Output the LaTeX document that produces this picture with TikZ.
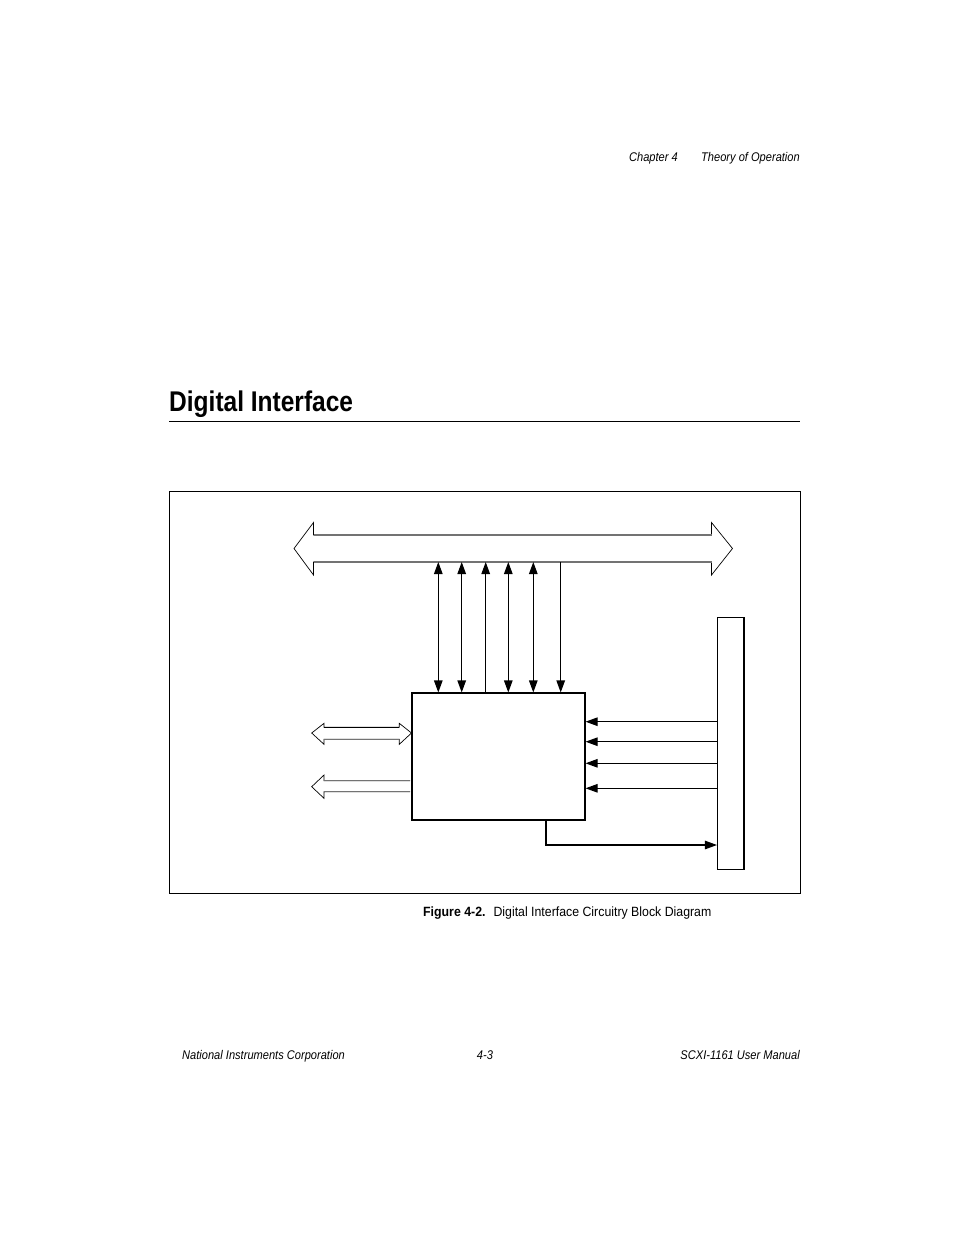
\documentclass[tikz,border=0pt]{standalone}
\usepackage{fontspec}
\setmainfont{Liberation Sans}
\newfontfamily\cond{Liberation Sans}[FakeStretch=0.88]
\newfontfamily\capf{Liberation Sans}[FakeStretch=0.92]
\newfontfamily\titf{Liberation Sans}[FakeStretch=0.86]
\usetikzlibrary{arrows.meta}
\tikzset{
  sig/.style={line width=1.1pt, black},
  ntip/.tip={Triangle[length=12pt,width=8.5pt]},
  outline/.style={line width=0.7pt, black, line join=miter},
  shaft/.style={line width=1.2pt, black!55},
  block/.style={draw, line width=1.1pt, inner sep=0, minimum width=#1},
  txt/.style={inner sep=0, text=black}
}
\begin{document}
\begin{tikzpicture}[x=1pt,y=-1pt]
\useasboundingbox (0,0) rectangle (954,1235);
% header
\node[txt, anchor=base east] (hdrA) at (678,161.5) {\cond\itshape\fontsize{12.6}{14}\selectfont Chapter 4};
\node[txt, anchor=base east] (hdrB) at (800,161.5) {\cond\itshape\fontsize{12.6}{14}\selectfont Theory of Operation};
% title
\node[txt, anchor=base west] (title) at (169,411.5) {\titf\bfseries\fontsize{28.5}{32}\selectfont Digital Interface};
\draw[line width=0.9pt] (169,421) -- (800,421);
% frame
\node[draw, line width=0.9pt, inner sep=0, minimum width=631pt, minimum height=402pt] (frame) at (484.5,692) {};
% bus arrow
\draw[outline] (294,548.5) -- (313.5,522.5) -- (313.5,535) -- (711.5,535) -- (711.5,522.5) -- (732.5,548.5) -- (711.5,575) -- (711.5,562) -- (313.5,562) -- (313.5,575) -- cycle;
\draw[shaft] (313.5,535) -- (711.5,535);
\draw[shaft] (313.5,562) -- (711.5,562);
% control block
\node[block=173pt, minimum height=127pt] (ctrl) at (498.5,756.5) {};
% right block
\node[block=26.5pt, minimum height=252pt] (blk) at (730.75,743.5) {};
% bus taps
\coordinate (b1) at (438.3,562);
\coordinate (b2) at (461.7,562);
\coordinate (b3) at (485.7,562);
\coordinate (b4) at (508.3,562);
\coordinate (b5) at (533.3,562);
\coordinate (b6) at (560.7,562);
\draw[sig, ntip-ntip] (b1) -- (b1 |- ctrl.north);
\draw[sig, ntip-ntip] (b2) -- (b2 |- ctrl.north);
\draw[sig, ntip-] (b3) -- (b3 |- ctrl.north);
\draw[sig, ntip-ntip] (b4) -- (b4 |- ctrl.north);
\draw[sig, ntip-ntip] (b5) -- (b5 |- ctrl.north);
\draw[sig, -ntip] (b6) -- (b6 |- ctrl.north);
% right block to control
\coordinate (h1) at (717.5,721.7);
\coordinate (h2) at (717.5,741.7);
\coordinate (h3) at (717.5,763.3);
\coordinate (h4) at (717.5,788.3);
\draw[sig, -ntip] (h1) -- (h1 -| ctrl.east);
\draw[sig, -ntip] (h2) -- (h2 -| ctrl.east);
\draw[sig, -ntip] (h3) -- (h3 -| ctrl.east);
\draw[sig, -ntip] (h4) -- (h4 -| ctrl.east);
% control to right block
\coordinate (d1) at (546,845);
\draw[sig, -ntip] (d1 |- ctrl.south) -- (d1) -- (d1 -| blk.west);
% left double arrow
\draw[outline] (311.7,733) -- (324,723.3) -- (324,727.3) -- (399.3,727.3) -- (399.3,723.3) -- (411.5,733) -- (399.3,744.3) -- (399.3,739.3) -- (324,739.3) -- (324,744.3) -- cycle;
\draw[line width=1.1pt, black] (324,727.3) -- (399.3,727.3);
\draw[shaft] (324,739.3) -- (399.3,739.3);
% left output arrow
\draw[outline] (410,780.7) -- (324,780.7) -- (324,775) -- (311.7,786.7) -- (324,798.3) -- (324,791.7) -- (410,791.7);
\draw[shaft] (410,780.7) -- (324,780.7);
\draw[shaft] (410,791.7) -- (324,791.7);
% caption
\node[txt, anchor=base west] (cap) at (423,916) {\capf\fontsize{13.4}{15}\selectfont\textbf{Figure 4-2.}\hspace{8pt}Digital Interface Circuitry Block Diagram};
% footer
\node[txt, anchor=base west] (ftA) at (182,1059) {\cond\itshape\fontsize{12.6}{14}\selectfont National Instruments Corporation};
\node[txt, anchor=base] (ftB) at (485,1059) {\cond\itshape\fontsize{12.6}{14}\selectfont 4-3};
\node[txt, anchor=base east] (ftC) at (800,1059) {\cond\itshape\fontsize{12.6}{14}\selectfont SCXI-1161 User Manual};
\end{tikzpicture}
\end{document}
